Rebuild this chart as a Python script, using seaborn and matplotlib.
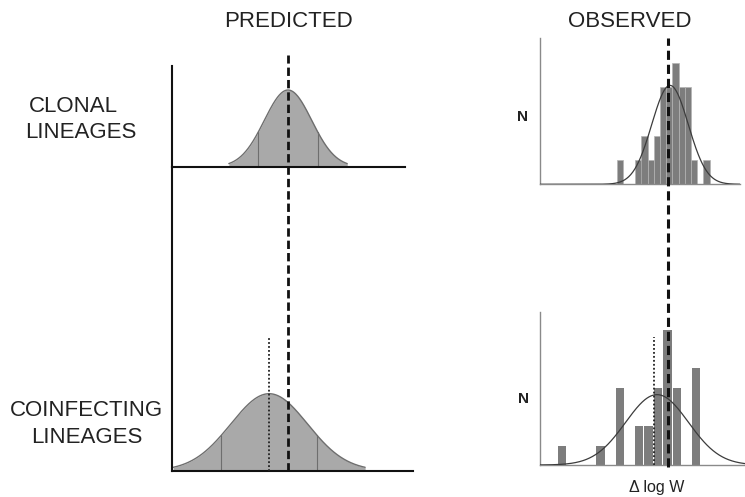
import numpy as np
import pandas as pd
import matplotlib
matplotlib.use("Agg")
import matplotlib.pyplot as plt
import seaborn as sns

sns.set_style("white")
plt.rcParams["font.family"] = ["Liberation Sans", "DejaVu Sans"]

# ---------------- data ----------------
panel_titles = ["PREDICTED", "OBSERVED"]
row_labels = [["CLONAL", "LINEAGES"], ["COINFECTING", "LINEAGES"]]
y_label = "N"
x_label = "\u0394 log W"

# predicted distributions (relative units)
pred_means = [0.0, -0.8]
pred_sds = [1.0, 1.62]
pred_peaks = [1.0, 1.0]
pred_tail_sd = 2.5      # curves are drawn to +/- this many SDs
pred_mark_sd = 1.25     # thin internal lines at +/- this many SDs
pred_coinf_mark = -0.8  # dotted line (coinfecting mean)
clonal_ref = 0.0        # dashed reference line (clonal mean)

# observed histograms (delta log W, counts)
obs_clonal_centers = [-0.482, -0.296, -0.234, -0.172, -0.110, -0.048,
                      0.014, 0.076, 0.138, 0.200, 0.262, 0.386]
obs_clonal_counts = [1, 1, 2, 1, 2, 4, 4, 5, 4, 4, 1, 1]
obs_clonal_binwidth = 0.062

obs_coinf_centers = [-1.057, -0.674, -0.483, -0.291, -0.196, -0.100,
                     -0.004, 0.091, 0.283]
obs_coinf_counts = [1, 1, 4, 2, 2, 4, 7, 4, 5]
obs_coinf_binwidth = 0.0957
obs_coinf_mark = -0.14

# ---------------- figure ----------------
W, H = 745, 497
fig = plt.figure(figsize=(W / 100, H / 100), dpi=100)


def px_axes(x0, y0, x1, y1):
    ax = fig.add_axes([x0 / W, 1 - y1 / H, (x1 - x0) / W, (y1 - y0) / H])
    ax.set_facecolor("none")
    return ax


ax_tl = px_axes(172, 66, 405, 167)
ax_bl = px_axes(172, 167, 413, 470.7)
ax_tr = px_axes(540, 38, 740, 184.3)
ax_br = px_axes(540, 311.7, 745, 465)

FILL = "#a9a9a9"
EDGE = "#6e6e6e"


def draw_pred(ax, mean, sd, peak):
    x = np.linspace(mean - pred_tail_sd * sd, mean + pred_tail_sd * sd, 400)
    y = peak * np.exp(-0.5 * ((x - mean) / sd) ** 2)
    ax.fill_between(x, 0, y, color=FILL, lw=0, zorder=1)
    sns.lineplot(x=x, y=y, ax=ax, color=EDGE, lw=1.0, zorder=2)
    for s in (-pred_mark_sd, pred_mark_sd):
        xv = mean + s * sd
        ax.plot([xv, xv], [0, peak * np.exp(-0.5 * s * s)], color=EDGE,
                lw=0.8, zorder=2)


draw_pred(ax_tl, pred_means[0], pred_sds[0], pred_peaks[0])
draw_pred(ax_bl, pred_means[1], pred_sds[1], pred_peaks[1])

ax_tl.set_xlim(-4.9, 4.94)
ax_tl.set_ylim(0, 1.312)
ax_bl.set_xlim(-4.9, 5.27)
ax_bl.set_ylim(0, 3.944)

for ax in (ax_tl, ax_bl):
    for side in ("top", "right"):
        ax.spines[side].set_visible(False)
    for side in ("left", "bottom"):
        ax.spines[side].set_color("#111111")
        ax.spines[side].set_linewidth(1.5)

# dotted (coinfecting mean) and dashed (clonal mean) in predicted panels
ax_bl.axvline(pred_coinf_mark, ymin=0, ymax=0.44, color="#222222", lw=1.3,
              linestyle=(0, (1, 1.2)), zorder=4)
ax_bl.axvline(clonal_ref, ymin=0, ymax=1.369, clip_on=False, color="#111111",
              lw=2.0, dashes=(3, 1.45), zorder=5)


def draw_obs(ax, centers, counts, bw, shrink, edgecolor, lw):
    df = pd.DataFrame({"x": centers, "w": counts})
    lo = df["x"].min() - bw / 2
    hi = df["x"].max() + bw / 2
    nb = int(round((hi - lo) / bw))
    edges = [float(e) for e in np.linspace(lo, hi, nb + 1)]
    sns.histplot(data=df, x="x", weights="w", bins=edges, ax=ax,
                 color="#7d7d7d", alpha=1, edgecolor=edgecolor, linewidth=lw,
                 shrink=shrink, zorder=1)
    c = df["x"].to_numpy()
    w = df["w"].to_numpy(dtype=float)
    n = w.sum()
    mu = np.average(c, weights=w)
    sd = np.sqrt(np.sum(w * (c - mu) ** 2) / (n - 1))
    return n, mu, sd


def fit_curve(ax, n, mu, sd, bw):
    xs = np.linspace(*ax.get_xlim(), 400)
    ys = n * bw * np.exp(-0.5 * ((xs - mu) / sd) ** 2) / (sd * np.sqrt(2 * np.pi))
    sns.lineplot(x=xs, y=ys, ax=ax, color="#3c3c3c", lw=0.9, zorder=3)


n, mu, sd = draw_obs(ax_tr, obs_clonal_centers, obs_clonal_counts,
                     obs_clonal_binwidth, 1.0, "#b3b3b3", 0.5)
ax_tr.set_xlim(-1.28, 0.72)
fit_curve(ax_tr, n, mu, sd, obs_clonal_binwidth)

n, mu, sd = draw_obs(ax_br, obs_coinf_centers, obs_coinf_counts,
                     obs_coinf_binwidth, 0.87, "none", 0)
ax_br.set_xlim(-1.28, 0.77)
fit_curve(ax_br, n, mu, sd, obs_coinf_binwidth)

ax_tr.set_xlim(-1.28, 0.72)
ax_br.set_xlim(-1.28, 0.77)
ax_tr.set_ylim(0, 6.02)
ax_br.set_ylim(0, 7.94)

for ax in (ax_tr, ax_br):
    for side in ("top", "right"):
        ax.spines[side].set_visible(False)
    for side in ("left", "bottom"):
        ax.spines[side].set_color("#8a8a8a")
        ax.spines[side].set_linewidth(1.0)

ax_br.axvline(obs_coinf_mark, ymin=0, ymax=0.837, color="#222222", lw=1.3,
              linestyle=(0, (1, 1.2)), zorder=4)
ax_br.axvline(clonal_ref, ymin=-0.013, ymax=2.785, clip_on=False,
              color="#111111", lw=2.2, dashes=(3, 1.6), zorder=5)

for ax in (ax_tl, ax_bl, ax_tr, ax_br):
    ax.set_xticks([])
    ax.set_yticks([])
    ax.set_xlabel("")
    ax.set_ylabel("")
    ax.grid(False)

ax_tl.set_zorder(1)
ax_tr.set_zorder(1)
ax_bl.set_zorder(3)
ax_br.set_zorder(3)

# ---------------- text ----------------
TXT = "#222222"


def ftext(x, y, s, **kw):
    fig.text(x / W, 1 - y / H, s, color=TXT, va="baseline", ha="center", **kw)


ftext(289, 27, panel_titles[0], fontsize=16)
ftext(630, 27, panel_titles[1], fontsize=16)
ftext(73, 112, row_labels[0][0], fontsize=16)
ftext(81, 138, row_labels[0][1], fontsize=16)
ftext(86, 416, row_labels[1][0], fontsize=16)
ftext(86.5, 443, row_labels[1][1], fontsize=16)
ftext(523, 121, y_label, fontsize=11, fontweight="bold")
ftext(523.5, 403, y_label, fontsize=11, fontweight="bold")
ftext(657, 492, x_label, fontsize=11.5)

fig.savefig("out.png", dpi=100)
